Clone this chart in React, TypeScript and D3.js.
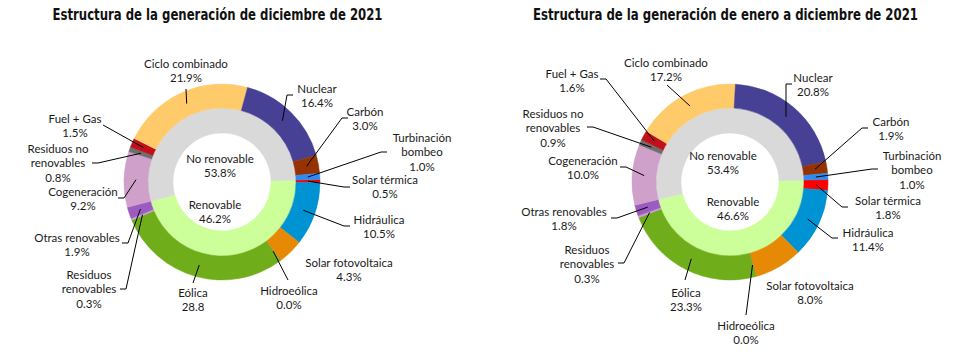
import * as d3 from "d3";

// outer ring, clockwise from the renewable boundary
const categories = [
  "Solar térmica",
  "Hidráulica",
  "Solar fotovoltaica",
  "Hidroeólica",
  "Eólica",
  "Residuos renovables",
  "Otras renovables",
  "Cogeneración",
  "Residuos no renovables",
  "Fuel + Gas",
  "Ciclo combinado",
  "Nuclear",
  "Carbón",
  "Turbinación bombeo",
];
const labelLines = [
  ["Solar térmica"],
  ["Hidráulica"],
  ["Solar fotovoltaica"],
  ["Hidroeólica"],
  ["Eólica"],
  ["Residuos", "renovables"],
  ["Otras renovables"],
  ["Cogeneración"],
  ["Residuos no", "renovables"],
  ["Fuel + Gas"],
  ["Ciclo combinado"],
  ["Nuclear"],
  ["Carbón"],
  ["Turbinación", "bombeo"],
];
const colors = [
  "#FF0000",
  "#0093D3",
  "#E68A06",
  "#4BACC6",
  "#70AD1A",
  "#C9A0DC",
  "#9C5BBF",
  "#CFA1CA",
  "#6E6E6E",
  "#C0111B",
  "#FFCA6A",
  "#474195",
  "#963200",
  "#2C8CF2",
];

const decValues = [0.5, 10.5, 4.3, 0.0, 28.8, 0.3, 1.9, 9.2, 0.8, 1.5, 21.9, 16.4, 3.0, 1.0];
const yearValues = [1.8, 11.4, 8.0, 0.0, 23.3, 0.3, 1.8, 10.0, 0.9, 1.6, 17.2, 20.8, 1.9, 1.0];

// inner ring
const groups = ["Renovable", "No renovable"];
const groupColors = ["#CCFF99", "#D9D9D9"];
const decGroupValues = [46.2, 53.8];
const yearGroupValues = [46.6, 53.4];

const titles = [
  "Estructura de la generación de diciembre de 2021",
  "Estructura de la generación de enero a diciembre de 2021",
];
// the December chart prints its wind share without "%"
const decNoPct = ["Eólica"];

type LabelPos = { lx: number; ly: number; sx?: number; sy?: number; elbow?: boolean };

// label placement relative to the chart centre (manually placed in the original)
const decLayout: LabelPos[] = [
  { lx: 163, ly: -3, sx: 128, sy: 5, elbow: true },
  { lx: 157, ly: 37, sx: 128, sy: 44, elbow: true },
  { lx: 127, ly: 80 },
  { lx: 67, ly: 108, sx: 66, sy: 98 },
  { lx: -29, ly: 110, sx: -29, sy: 101 },
  { lx: -133, ly: 92, sx: -102, sy: 107, elbow: true },
  { lx: -145, ly: 55, sx: -100, sy: 61, elbow: true },
  { lx: -139, ly: 9, sx: -104, sy: 16, elbow: true },
  { lx: -164, ly: -34, sx: -130, sy: -19, elbow: true },
  { lx: -147, ly: -64, sx: -119, sy: -57 },
  { lx: -36, ly: -119, sx: -36, sy: -93 },
  { lx: 95, ly: -94, sx: 71, sy: -87, elbow: true },
  { lx: 143, ly: -71, sx: 126, sy: -64, elbow: true },
  { lx: 200, ly: -45, sx: 165, sy: -30, elbow: true },
];
const yearLayout: LabelPos[] = [
  { lx: 158, ly: 18, sx: 118, sy: 25, elbow: true },
  { lx: 138, ly: 50, sx: 108, sy: 56, elbow: true },
  { lx: 80, ly: 103 },
  { lx: 16, ly: 143, sx: 16, sy: 133 },
  { lx: -44, ly: 110, sx: -45, sy: 98 },
  { lx: -143, ly: 67, sx: -112, sy: 81, elbow: true },
  { lx: -166, ly: 29, sx: -119, sy: 36, elbow: true },
  { lx: -147, ly: -22, sx: -110, sy: -15, elbow: true },
  { lx: -177, ly: -69, sx: -143, sy: -55, elbow: true },
  { lx: -158, ly: -109, sx: -130, sy: -103, elbow: true },
  { lx: -64, ly: -120, sx: -63, sy: -97 },
  { lx: 83, ly: -105, sx: 62, sy: -98, elbow: true },
  { lx: 161, ly: -61, sx: 138, sy: -54, elbow: true },
  { lx: 182, ly: -27, sx: 148, sy: -13, elbow: true },
];
const decGroupLayout = [
  { lx: -7, ly: 22 },
  { lx: -2, ly: -24 },
];
const yearGroupLayout = [
  { lx: 3, ly: 19 },
  { lx: -7, ly: -27 },
];

const labelFont = "Lato, 'Open Sans', sans-serif";
const lineGap = 14.5;
const startAngle = (88.5 * Math.PI) / 180;

type DonutProps = {
  cx: number;
  cy: number;
  title: string;
  titleWidth: number;
  values: number[];
  groupValues: number[];
  layout: LabelPos[];
  groupLayout: { lx: number; ly: number }[];
  noPct: string[];
};

function Donut({ cx, cy, title, titleWidth, values, groupValues, layout, groupLayout, noPct }: DonutProps) {
  const pie = d3
    .pie<number>()
    .sort(null)
    .value((d) => d)
    .startAngle(startAngle)
    .endAngle(startAngle + 2 * Math.PI);

  const outerArc = d3.arc<d3.PieArcDatum<number>>().innerRadius(74).outerRadius(98);
  const innerArc = d3.arc<d3.PieArcDatum<number>>().innerRadius(49).outerRadius(74);

  const outer = pie(values);
  const inner = pie(groupValues);

  return (
    <g>
      <text
        x={cx - 4.5}
        y={20}
        textAnchor="middle"
        fontFamily="'DejaVu Sans Condensed', 'Liberation Sans Narrow', Roboto, sans-serif"
        fontWeight="bold"
        fontSize={16}
        textLength={titleWidth}
        lengthAdjust="spacingAndGlyphs"
        fill="#111"
      >
        {title}
      </text>
      <g transform={`translate(${cx},${cy})`}>
        {inner.map((a, i) => (
          <path key={"in" + i} d={innerArc(a) || ""} fill={groupColors[i]} stroke={groupColors[i]} strokeWidth={0.5} />
        ))}
        {outer.map((a, i) => (
          <path key={"out" + i} d={outerArc(a) || ""} fill={colors[i]} stroke={colors[i]} strokeWidth={0.5} />
        ))}
        {outer.map((a, i) => {
          const p = layout[i];
          if (p.sx === undefined || p.sy === undefined) return null;
          const mid = (a.startAngle + a.endAngle) / 2;
          const ax = 86 * Math.sin(mid);
          const ay = -86 * Math.cos(mid);
          const ex = p.elbow ? p.sx + (ax < p.sx ? -6 : 6) : p.sx;
          return (
            <path
              key={"ld" + i}
              d={`M${p.sx},${p.sy}L${ex},${p.sy}L${ax},${ay}`}
              fill="none"
              stroke="#000"
              strokeWidth={1}
            />
          );
        })}
        {outer.map((a, i) => {
          const p = layout[i];
          const v = a.data.toFixed(1) + (noPct.includes(categories[i]) ? "" : "%");
          const lines = [...labelLines[i], v];
          return (
            <text key={"lb" + i} textAnchor="middle" fontFamily={labelFont} fontSize={11.5} fill="#1a1a1a">
              {lines.map((t, k) => (
                <tspan key={k} x={p.lx} y={p.ly + k * lineGap} dominantBaseline="central">
                  {t}
                </tspan>
              ))}
            </text>
          );
        })}
        {inner.map((a, i) => {
          const p = groupLayout[i];
          return (
            <text key={"gl" + i} textAnchor="middle" fontFamily={labelFont} fontSize={11.5} fill="#1a1a1a">
              <tspan x={p.lx} y={p.ly} dominantBaseline="central">
                {groups[i]}
              </tspan>
              <tspan x={p.lx} y={p.ly + lineGap} dominantBaseline="central">
                {a.data.toFixed(1) + "%"}
              </tspan>
            </text>
          );
        })}
      </g>
    </g>
  );
}

export default function App() {
  return (
    <svg width={961} height={351} style={{ position: "absolute", left: 0, top: 0, background: "#fff" }}>
      <rect width={961} height={351} fill="#fff" />
      <Donut
        cx={222}
        cy={182}
        title={titles[0]}
        titleWidth={330}
        values={decValues}
        groupValues={decGroupValues}
        layout={decLayout}
        groupLayout={decGroupLayout}
        noPct={decNoPct}
      />
      <Donut
        cx={730}
        cy={182}
        title={titles[1]}
        titleWidth={385}
        values={yearValues}
        groupValues={yearGroupValues}
        layout={yearLayout}
        groupLayout={yearGroupLayout}
        noPct={[]}
      />
    </svg>
  );
}
